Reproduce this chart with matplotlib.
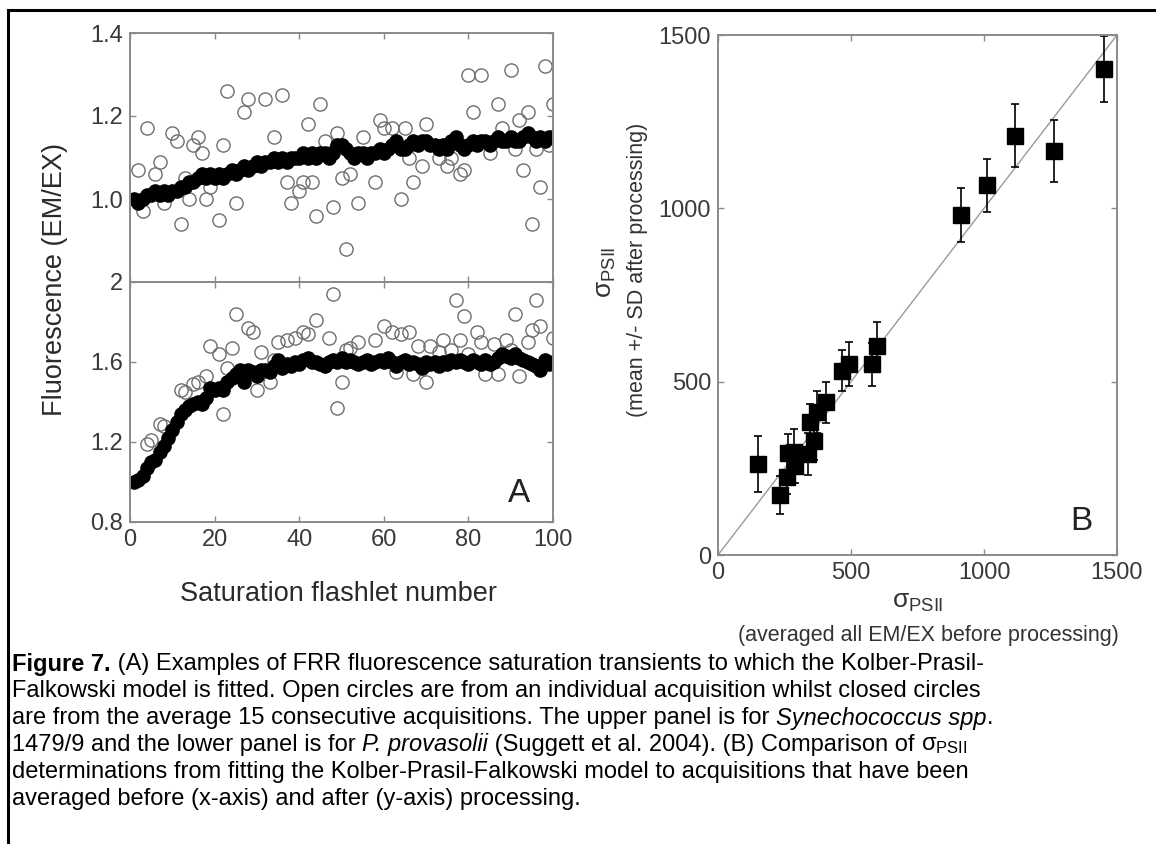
import numpy as np
import matplotlib
matplotlib.use("Agg")
import matplotlib.pyplot as plt
from matplotlib.lines import Line2D

plt.rcParams['font.family'] = ['Liberation Sans', 'DejaVu Sans']
plt.rcParams['mathtext.fontset'] = 'custom'
plt.rcParams['mathtext.rm'] = 'Liberation Sans'
plt.rcParams['mathtext.it'] = 'Liberation Sans:italic'
plt.rcParams['mathtext.bf'] = 'Liberation Sans:bold'

# panel A, upper (Synechococcus): averaged (closed) and single acquisition (open)
flash = np.arange(1, 101)
syn_avg = [1.00, 0.99, 1.00, 1.01, 1.01, 1.02, 1.01, 1.02, 1.01, 1.02,
           1.02, 1.03, 1.03, 1.04, 1.04, 1.05, 1.06, 1.05, 1.06, 1.05,
           1.06, 1.05, 1.06, 1.07, 1.06, 1.07, 1.08, 1.07, 1.08, 1.09,
           1.08, 1.09, 1.09, 1.10, 1.09, 1.10, 1.09, 1.10, 1.10, 1.10,
           1.11, 1.10, 1.11, 1.10, 1.11, 1.11, 1.10, 1.11, 1.13, 1.13,
           1.12, 1.11, 1.10, 1.11, 1.11, 1.10, 1.11, 1.11, 1.12, 1.11,
           1.12, 1.13, 1.14, 1.12, 1.12, 1.13, 1.14, 1.13, 1.14, 1.14,
           1.13, 1.13, 1.12, 1.13, 1.12, 1.14, 1.15, 1.13, 1.12, 1.13,
           1.14, 1.13, 1.14, 1.14, 1.13, 1.14, 1.15, 1.14, 1.14, 1.15,
           1.14, 1.14, 1.15, 1.16, 1.15, 1.14, 1.15, 1.14, 1.15, 1.15]
syn_one_x = [2, 3, 4, 6, 7, 8, 10, 11, 12, 13, 14, 15, 16, 17, 18, 19, 21, 22, 23, 25,
             27, 28, 32, 34, 36, 37, 38, 40, 41, 42, 43, 44, 45, 46, 48, 49, 50, 51, 52, 54,
             55, 58, 59, 60, 62, 64, 65, 66, 67, 69, 70, 73, 75, 76, 78, 79, 80, 81, 83, 85,
             87, 88, 90, 91, 92, 93, 94, 95, 96, 97, 98, 99, 100]
syn_one_y = [1.07, 0.97, 1.17, 1.06, 1.09, 0.99, 1.16, 1.14, 0.94, 1.05, 1.00, 1.13, 1.15, 1.11, 1.00, 1.03, 0.95, 1.13, 1.26, 0.99,
             1.21, 1.24, 1.24, 1.15, 1.25, 1.04, 0.99, 1.02, 1.04, 1.18, 1.04, 0.96, 1.23, 1.14, 0.98, 1.16, 1.05, 0.88, 1.06, 0.99,
             1.15, 1.04, 1.19, 1.17, 1.17, 1.00, 1.17, 1.10, 1.04, 1.08, 1.18, 1.10, 1.08, 1.10, 1.06, 1.07, 1.30, 1.21, 1.30, 1.11,
             1.23, 1.17, 1.31, 1.12, 1.19, 1.07, 1.21, 0.94, 1.12, 1.03, 1.32, 1.13, 1.23]

# panel A, lower (P. provasolii)
pro_avg = [1.00, 1.01, 1.03, 1.07, 1.10, 1.11, 1.15, 1.18, 1.22, 1.26,
           1.30, 1.34, 1.36, 1.38, 1.39, 1.40, 1.39, 1.42, 1.47, 1.46,
           1.47, 1.46, 1.50, 1.52, 1.54, 1.56, 1.50, 1.56, 1.55, 1.53,
           1.56, 1.56, 1.55, 1.58, 1.61, 1.57, 1.59, 1.58, 1.60, 1.59,
           1.61, 1.62, 1.60, 1.60, 1.59, 1.58, 1.60, 1.61, 1.60, 1.62,
           1.60, 1.61, 1.60, 1.59, 1.60, 1.61, 1.59, 1.60, 1.61, 1.60,
           1.62, 1.60, 1.58, 1.60, 1.61, 1.59, 1.60, 1.59, 1.57, 1.60,
           1.59, 1.60, 1.58, 1.60, 1.59, 1.61, 1.60, 1.61, 1.60, 1.59,
           1.61, 1.60, 1.59, 1.61, 1.59, 1.60, 1.62, 1.64, 1.63, 1.62,
           1.64, 1.62, 1.61, 1.60, 1.59, 1.58, 1.56, 1.61, 1.59, 1.60]
pro_one_x = [4, 5, 7, 8, 12, 13, 15, 16, 18, 19, 21, 22, 23, 24, 25, 28, 29, 30, 31, 33,
             34, 35, 37, 39, 41, 42, 44, 47, 48, 49, 50, 51, 52, 54, 58, 60, 62, 63, 64, 66,
             67, 68, 70, 71, 73, 74, 76, 77, 78, 79, 80, 82, 83, 84, 86, 87, 89, 90, 91, 92,
             94, 95, 96, 97, 100]
pro_one_y = [1.19, 1.21, 1.29, 1.28, 1.46, 1.45, 1.49, 1.50, 1.53, 1.68, 1.64, 1.34, 1.57, 1.67, 1.84, 1.77, 1.75, 1.46, 1.65, 1.50,
             1.61, 1.70, 1.71, 1.72, 1.75, 1.74, 1.81, 1.72, 1.94, 1.37, 1.50, 1.66, 1.67, 1.70, 1.71, 1.78, 1.75, 1.55, 1.74, 1.75,
             1.54, 1.68, 1.50, 1.68, 1.65, 1.71, 1.66, 1.91, 1.71, 1.83, 1.64, 1.75, 1.70, 1.54, 1.69, 1.54, 1.71, 1.66, 1.84, 1.53,
             1.70, 1.76, 1.91, 1.78, 1.72]

# panel B: sigma PSII before vs after processing (mean +/- SD)
sig_before = [151, 232, 258, 262, 284, 290, 340, 345, 362, 372,
              405, 465, 492, 578, 598, 912, 1012, 1116, 1262, 1450]
sig_after = [262, 172, 225, 295, 298, 258, 292, 385, 330, 412,
             440, 532, 550, 550, 603, 982, 1066, 1210, 1166, 1403]
sig_sd = [80, 55, 50, 55, 65, 50, 60, 50, 55, 60,
          60, 58, 63, 62, 68, 78, 77, 90, 90, 95]

W, H = 1156, 844
fig = plt.figure(figsize=(W / 100, H / 100), dpi=100)

def fx(px):
    return px / W

def fy(py):
    return 1 - py / H

spine_col = '#8a8a8a'
lab_col = '#3a3a3a'

def style_ax(ax):
    for s in ax.spines.values():
        s.set_color(spine_col)
        s.set_linewidth(1.4)
    ax.tick_params(direction='in', top=True, right=True, length=4, width=1,
                   color=spine_col, labelsize=17, labelcolor=lab_col, pad=5)

# panel A axes
axu = fig.add_axes([fx(130), fy(282), fx(553) - fx(130), fy(33) - fy(282)])
axl = fig.add_axes([fx(130), fy(522), fx(553) - fx(130), fy(282) - fy(522)])

for ax in (axu, axl):
    style_ax(ax)
    ax.set_xlim(0, 100)
    ax.set_xticks([0, 20, 40, 60, 80, 100])

axu.plot(syn_one_x, syn_one_y, 'o', ms=9.5, mfc='none', mec='#6e6e6e', mew=1.0)
axu.plot(flash, syn_avg, 'o', ms=9.5, color='black')
axu.set_ylim(0.8, 1.4)
axu.set_yticks([0.8, 1.0, 1.2, 1.4])
axu.set_yticklabels(['', '1.0', '1.2', '1.4'])
axu.set_xticklabels([])

axl.plot(pro_one_x, pro_one_y, 'o', ms=9.5, mfc='none', mec='#6e6e6e', mew=1.0)
axl.plot(flash, pro_avg, 'o', ms=9.5, color='black')
axl.set_ylim(0.8, 2.0)
axl.set_yticks([0.8, 1.2, 1.6, 2.0])
axl.set_yticklabels(['0.8', '1.2', '1.6', '2'])
axl.text(0.92, 0.12, 'A', transform=axl.transAxes, fontsize=24, color='#222222',
         ha='center', va='center')

fig.text(fx(55), fy(280), 'Fluorescence (EM/EX)', rotation=90, fontsize=19.5,
         color='#2a2a2a', ha='center', va='center')
fig.text(fx(338), fy(594), 'Saturation flashlet number', fontsize=19.5,
         color='#2a2a2a', ha='center', va='center')

# panel B
axb = fig.add_axes([fx(718), fy(555), fx(1117) - fx(718), fy(35) - fy(555)])
style_ax(axb)
axb.plot([0, 1500], [0, 1500], color='#9a9a9a', lw=1.0)
axb.errorbar(sig_before, sig_after, yerr=sig_sd, fmt='s', ms=11.5, color='black',
             ecolor='black', elinewidth=1.2, capsize=3, capthick=1.2)
axb.set_xlim(0, 1500)
axb.set_ylim(0, 1500)
axb.set_xticks([0, 500, 1000, 1500])
axb.set_yticks([0, 500, 1000, 1500])
axb.text(0.91, 0.065, 'B', transform=axb.transAxes, fontsize=24, color='#222222',
         ha='center', va='center')

sig = r'$\mathrm{σ}_{\rm PSII}$'
fig.text(fx(606), fy(272), sig, rotation=90, fontsize=19, color='#333333',
         ha='center', va='center')
fig.text(fx(638), fy(270), '(mean +/- SD after processing)', rotation=90, fontsize=15.5,
         color='#333333', ha='center', va='center')
fig.text(fx(918), fy(602), sig, fontsize=19, color='#333333', ha='center', va='center')
fig.text(fx(928), fy(635), '(averaged all EM/EX before processing)', fontsize=15.5,
         color='#333333', ha='center', va='center')

# outer frame (top and left rules)
fig.add_artist(Line2D([fx(8), 1], [fy(10), fy(10)], color='black', lw=2.2))
fig.add_artist(Line2D([fx(8), fx(8)], [0, fy(10)], color='black', lw=2.2))

# caption, drawn run by run so bold / italic / subscript can mix
renderer = fig.canvas.get_renderer()
CAP = 17

def run_width(txt, kw):
    # width of txt including trailing spaces, via a '|' sentinel
    a = fig.text(0, 0, txt + '|', fontsize=CAP, **kw)
    b = fig.text(0, 0, '|', fontsize=CAP, **kw)
    w = a.get_window_extent(renderer).width - b.get_window_extent(renderer).width
    a.remove()
    b.remove()
    return w

def put_runs(x, y, runs):
    for txt, kw in runs:
        w = run_width(txt, kw)
        fig.text(fx(x), fy(y), txt, fontsize=CAP, color='black', va='center', **kw)
        x += w

R = {}
B = {'fontweight': 'bold'}
I = {'fontstyle': 'italic'}
cap_lines = [
    [('Figure 7.', B), (' (A) Examples of FRR fluorescence saturation transients to which the Kolber-Prasil-', R)],
    [('Falkowski model is fitted. Open circles are from an individual acquisition whilst closed circles', R)],
    [('are from the average 15 consecutive acquisitions. The upper panel is for ', R), ('Synechococcus spp', I), ('.', R)],
    [('1479/9 and the lower panel is for ', R), ('P. provasolii', I),
     (' (Suggett et al. 2004). (B) Comparison of ', R), (sig, R)],
    [('determinations from fitting the Kolber-Prasil-Falkowski model to acquisitions that have been', R)],
    [('averaged before (x-axis) and after (y-axis) processing.', R)],
]
for i, runs in enumerate(cap_lines):
    put_runs(12, 664 + i * 27, runs)

fig.savefig('out.png', dpi=100)
